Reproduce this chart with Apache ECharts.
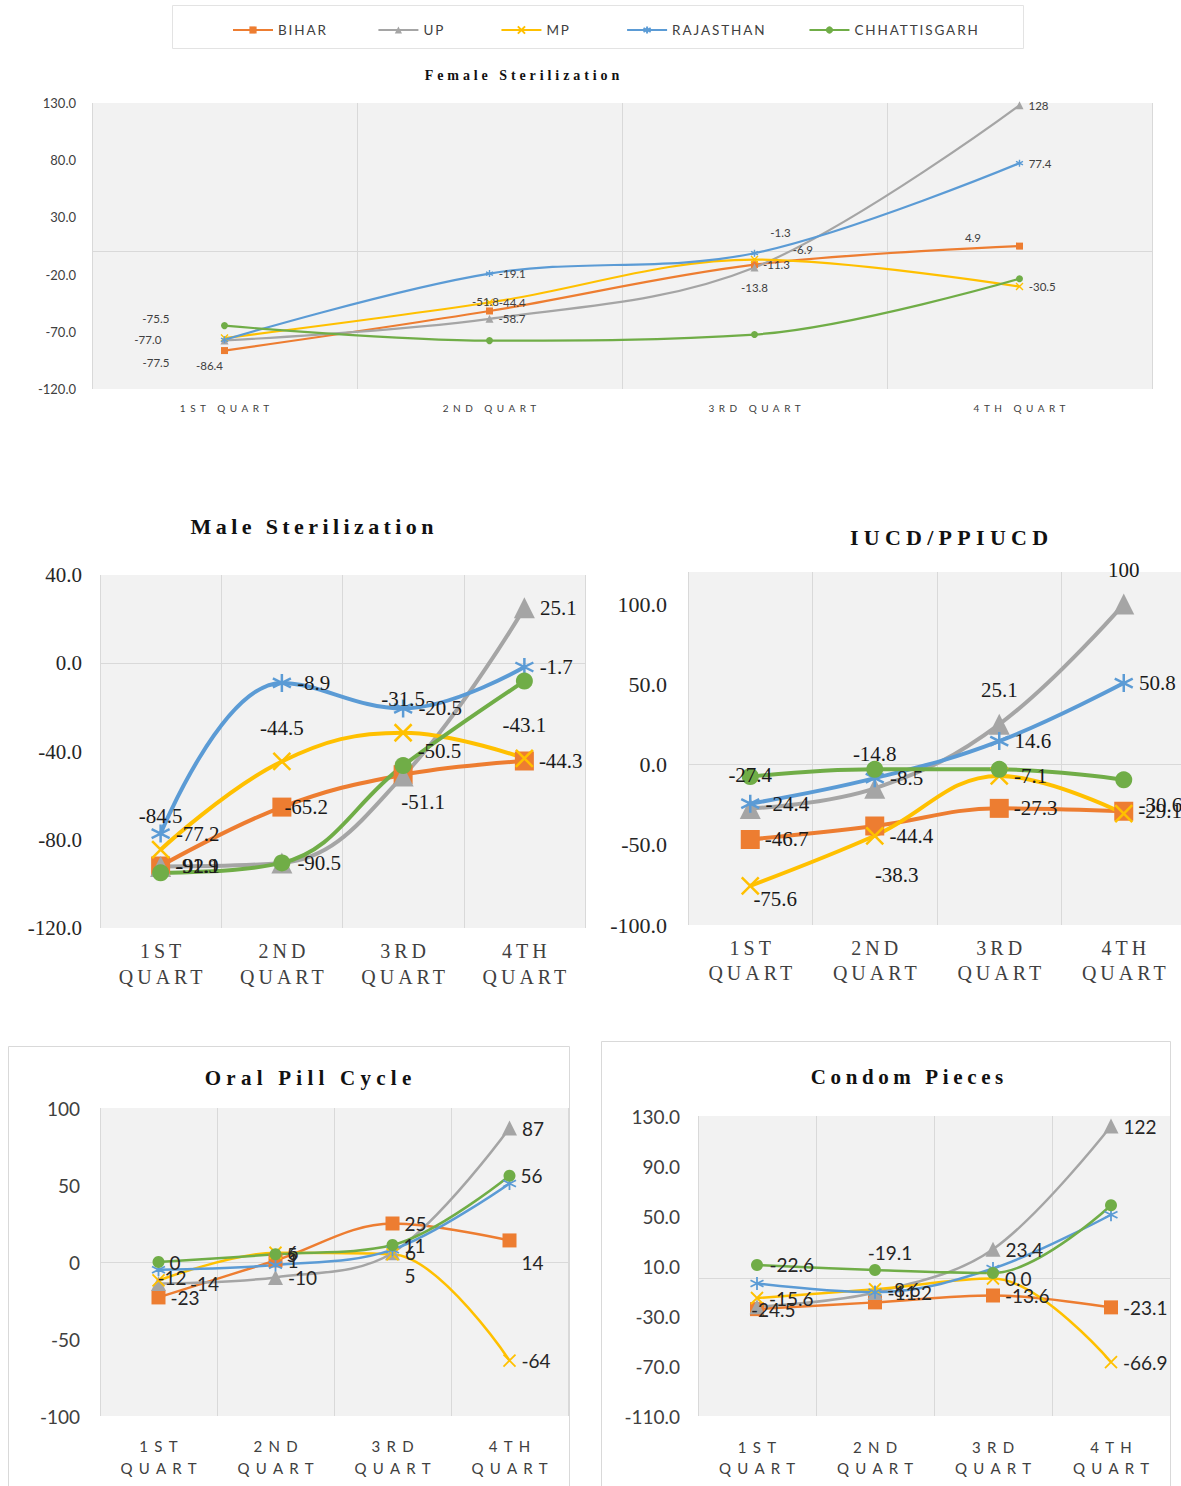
<!DOCTYPE html>
<html>
<head>
<meta charset="utf-8">
<title>Family planning methods by quarter</title>
<script src="https://cdn.jsdelivr.net/npm/echarts@6/dist/echarts.min.js"></script>
<style>
  html, body { margin: 0; padding: 0; background: #fff; }
  #chart { width: 1181px; height: 1486px; }
</style>
</head>
<body>
<div id="chart"></div>
<script>
// ---- categories ----
const QUARTERS = ['1ST QUART', '2ND QUART', '3RD QUART', '4TH QUART'];
const STATES = ['BIHAR', 'UP', 'MP', 'RAJASTHAN', 'CHHATTISGARH'];

// ---- Female Sterilization ----
const femaleBihar = [-86.4, -51.8, -11.3, 4.9];
const femaleUP = [-77.5, -58.7, -13.8, 128];
const femaleMP = [-75.5, -44.4, -6.9, -30.5];
const femaleRajasthan = [-77.0, -19.1, -1.3, 77.4];
const femaleChhattisgarh = [-64.6, -77.7, -72.4, -23.6];
const femaleTicks = [-120, -70, -20, 30, 80, 130];

// ---- Male Sterilization ----
const maleBihar = [-91.9, -65.2, -50.5, -44.3];
const maleUP = [-92.1, -90.5, -51.1, 25.1];
const maleMP = [-84.5, -44.5, -31.5, -43.1];
const maleRajasthan = [-77.2, -8.9, -20.5, -1.7];
const maleChhattisgarh = [-95.0, -90.5, -46.4, -8.1];
const maleTicks = [-120, -80, -40, 0, 40];

// ---- IUCD/PPIUCD ----
const iucdBihar = [-46.7, -38.3, -27.3, -29.1];
const iucdUP = [-27.4, -14.8, 25.1, 100];
const iucdMP = [-75.6, -44.4, -7.1, -30.6];
const iucdRajasthan = [-24.4, -8.5, 14.6, 50.8];
const iucdChhattisgarh = [-7.5, -3.0, -3.0, -9.5];
const iucdTicks = [-100, -50, 0, 50, 100];

// ---- Oral Pill Cycle ----
const pillBihar = [-23, 1, 25, 14];
const pillUP = [-14, -10, 6, 87];
const pillMP = [-12, 6, 5, -64];
const pillRajasthan = [-5, -2, 8, 51];
const pillChhattisgarh = [0, 5, 11, 56];
const pillTicks = [-100, -50, 0, 50, 100];

// ---- Condom Pieces ----
const condomBihar = [-24.5, -19.1, -13.6, -23.1];
const condomUP = [-22.6, -11.2, 23.4, 122];
const condomMP = [-15.6, -8.6, 0.0, -66.9];
const condomRajasthan = [-4.0, -11.0, 8.0, 51.0];
const condomChhattisgarh = [10.8, 6.8, 4.4, 58.6];
const condomTicks = [-110, -70, -30, 10, 50, 90, 130];

// ---- styling ----
const SANS = 'Lato, "Liberation Sans", sans-serif';
const SERIF = '"Liberation Serif", "DejaVu Serif", serif';
const CROSS = 'path://M0,0L10,10M10,0L0,10';
const ASTERISK = 'path://M5,0L5,10M0.7,2.5L9.3,7.5M0.7,7.5L9.3,2.5';

const SERIES_STYLE = [
  { color: '#ED7D31', symbol: 'rect', k: 1.05, stroke: false },
  { color: '#A5A5A5', symbol: 'triangle', k: 1.15, stroke: false },
  { color: '#FFC000', symbol: CROSS, k: 0.95, stroke: true },
  { color: '#5B9BD5', symbol: ASTERISK, k: 1.0, stroke: true },
  { color: '#70AD47', symbol: 'circle', k: 0.95, stroke: false }
];

const fmtOne = v => (Math.abs(v) >= 100 ? String(v) : v.toFixed(1));
const fmtInt = v => String(v);
const tickOne = v => v.toFixed(1);

const R = 'right';

const PANELS = [
  {
    title: 'Female Sterilization', tx: 522, ty: 75, tSize: 14, tTrack: 0.28,
    grid: { left: 92, top: 103, width: 1060, height: 286 },
    ticks: femaleTicks, tickFmt: tickOne, valueFmt: fmtOne,
    series: [femaleBihar, femaleUP, femaleMP, femaleRajasthan, femaleChhattisgarh],
    labelled: [true, true, true, true, false],
    place: [
      [['bottom', -15, 0], ['top', -4, 5], R, ['left', -30, -9]],
      [['left', -46, 22], R, ['bottom', 0, 5], R],
      [['left', -46, -20], R, ['right', 29, -10], R],
      [['left', -54, 0], R, ['top', 26, -6], R],
      null
    ],
    axisFont: SANS, axisSize: 13, axisColor: '#404040', yMargin: 16,
    catFont: SANS, catSize: 10, catMargin: 13, catLine: 12, twoLine: false,
    labelFont: SANS, labelSize: 11.5, labelColor: '#404040',
    lineWidth: 2.2, mark: 7, strokeW: 1.4, smooth: 0.35
  },
  {
    title: 'Male Sterilization', tx: 312, ty: 526, tSize: 22, tTrack: 0.2,
    grid: { left: 100, top: 575, width: 485, height: 353 },
    ticks: maleTicks, tickFmt: tickOne, valueFmt: fmtOne,
    series: [maleBihar, maleUP, maleMP, maleRajasthan, maleChhattisgarh],
    labelled: [true, true, true, true, false],
    place: [
      [R, ['right', -12, 0], ['right', 0, -24], R],
      [R, R, ['bottom', 20, 0], R],
      [['top', 0, -8], ['top', 0, -8], ['top', 0, -8], ['top', 0, -8]],
      [R, R, R, R],
      null
    ],
    axisFont: SERIF, axisSize: 21, axisColor: '#262626', yMargin: 18,
    catFont: SERIF, catSize: 20, catMargin: 10, catLine: 26, twoLine: true,
    labelFont: SERIF, labelSize: 21, labelColor: '#1a1a1a',
    lineWidth: 4, mark: 18, strokeW: 2.5, smooth: 0.4
  },
  {
    title: 'IUCD/PPIUCD', tx: 949, ty: 537, tSize: 22, tTrack: 0.24,
    grid: { left: 688, top: 572, width: 498, height: 353 },
    ticks: iucdTicks, yMax: 120, tickFmt: tickOne, valueFmt: fmtOne,
    series: [iucdBihar, iucdUP, iucdMP, iucdRajasthan, iucdChhattisgarh],
    labelled: [true, true, true, true, false],
    place: [
      [R, ['bottom', 22, 24], R, R],
      [['top', 0, -8], ['top', 0, -8], ['top', 0, -8], ['top', 0, -8]],
      [['bottom', 25, -12], R, R, ['right', 0, -9]],
      [R, R, R, R],
      null
    ],
    axisFont: SERIF, axisSize: 22, axisColor: '#262626', yMargin: 21,
    catFont: SERIF, catSize: 20, catMargin: 10, catLine: 25, twoLine: true,
    labelFont: SERIF, labelSize: 21, labelColor: '#1a1a1a',
    lineWidth: 4, mark: 18, strokeW: 2.5, smooth: 0.4
  },
  {
    title: 'Oral Pill Cycle', tx: 308, ty: 1078, tSize: 21, tTrack: 0.25,
    box: { x: 8, y: 1046, width: 561, height: 460 },
    grid: { left: 100, top: 1108, width: 468, height: 308 },
    ticks: pillTicks, tickFmt: fmtInt, valueFmt: fmtInt,
    series: [pillBihar, pillUP, pillMP, pillRajasthan, pillChhattisgarh],
    labelled: [true, true, true, false, true],
    place: [
      [R, R, R, ['right', 0, 22]],
      [['right', 19, 0], R, R, R],
      [['right', -13, -3], R, ['right', 0, 21], R],
      null,
      [R, R, R, R]
    ],
    axisFont: SANS, axisSize: 19, axisColor: '#404040', yMargin: 20,
    catFont: SANS, catSize: 15, catMargin: 19, catLine: 22, twoLine: true,
    labelFont: SANS, labelSize: 19, labelColor: '#262626',
    lineWidth: 2.5, mark: 13, strokeW: 1.8, smooth: 0.35
  },
  {
    title: 'Condom Pieces', tx: 907, ty: 1077, tSize: 21, tTrack: 0.22,
    box: { x: 601, y: 1041, width: 569, height: 465 },
    grid: { left: 698, top: 1116, width: 472, height: 300 },
    ticks: condomTicks, tickFmt: tickOne, valueFmt: fmtOne,
    series: [condomBihar, condomUP, condomMP, condomRajasthan, condomChhattisgarh],
    labelled: [true, true, true, false, false],
    place: [
      [['right', -18, 0], ['top', 15, -28], R, R],
      [['right', 0, -42], R, R, R],
      [R, R, R, R],
      null,
      null
    ],
    axisFont: SANS, axisSize: 19, axisColor: '#404040', yMargin: 18,
    catFont: SANS, catSize: 15, catMargin: 20, catLine: 21, twoLine: true,
    labelFont: SANS, labelSize: 19, labelColor: '#262626',
    lineWidth: 2.5, mark: 13, strokeW: 1.8, smooth: 0.35
  }
];

// ---- build option ----
const grids = [], xAxes = [], yAxes = [], series = [], graphics = [];

// legend frame
graphics.push({
  type: 'rect', shape: { x: 172.5, y: 5.5, width: 851, height: 43 },
  style: { fill: 'none', stroke: '#e3e3e3', lineWidth: 1 }, silent: true
});

PANELS.forEach((p, gi) => {
  if (p.box) {
    graphics.push({
      type: 'rect', shape: { x: p.box.x + 0.5, y: p.box.y + 0.5, width: p.box.width, height: p.box.height },
      style: { fill: 'none', stroke: '#d9d9d9', lineWidth: 1 }, silent: true
    });
  }
  graphics.push({
    type: 'text', x: p.tx, y: p.ty, silent: true,
    style: {
      text: p.title, fontFamily: SERIF, fontWeight: 'bold', fontSize: p.tSize, fill: '#111',
      align: 'center', verticalAlign: 'middle', textAlign: 'center', textVerticalAlign: 'middle'
    }
  });

  grids.push(Object.assign({
    show: true, backgroundColor: '#f2f2f2', borderWidth: 0, borderColor: 'transparent',
    containLabel: false, outerBoundsMode: 'none'
  }, p.grid));

  xAxes.push({
    gridIndex: gi, type: 'category', data: QUARTERS, boundaryGap: true,
    axisLine: { show: false }, axisTick: { show: false },
    splitLine: { show: true, lineStyle: { color: '#d9d9d9', width: 1 } },
    axisLabel: {
      interval: 0, margin: p.catMargin, fontFamily: p.catFont, fontSize: p.catSize,
      lineHeight: p.catLine, color: '#404040',
      formatter: p.twoLine ? (v => v.replace(' ', '\n')) : (v => v)
    }
  });

  const t = p.ticks;
  const yAxis = {
    gridIndex: gi, type: 'value', min: t[0], max: p.yMax != null ? p.yMax : t[t.length - 1],
    interval: t[1] - t[0],
    splitLine: { show: false }, axisLine: { show: false }, axisTick: { show: false },
    axisLabel: {
      margin: p.yMargin, fontFamily: p.axisFont, fontSize: p.axisSize, color: p.axisColor,
      formatter: p.tickFmt
    }
  };
  if (p.yMax != null) yAxis.axisLabel.showMaxLabel = false;
  yAxes.push(yAxis);

  p.series.forEach((vals, si) => {
    const st = SERIES_STYLE[si];
    const show = p.labelled[si];
    const place = p.place[si];
    const data = vals.map((v, i) => {
      if (!show) return v;
      const pl = place ? place[i] : R;
      const [pos, dx, dy] = Array.isArray(pl) ? pl : [pl, 0, 0];
      return { value: v, label: { position: pos, offset: [dx, dy] } };
    });
    const s = {
      type: 'line', name: STATES[si], xAxisIndex: gi, yAxisIndex: gi, data,
      smooth: p.smooth, symbol: st.symbol, symbolSize: Math.round(p.mark * st.k),
      showAllSymbol: true,
      lineStyle: { color: st.color, width: p.lineWidth },
      itemStyle: { color: st.color, borderColor: st.color, borderWidth: st.stroke ? p.strokeW : 0 },
      label: {
        show, distance: 5, fontFamily: p.labelFont, fontSize: p.labelSize, color: p.labelColor,
        formatter: prm => p.valueFmt(prm.value)
      },
      emphasis: { disabled: true },
      animation: false
    };
    if (si === 0) {
      s.markLine = {
        silent: true, symbol: ['none', 'none'], z: 1, animation: false,
        label: { show: false },
        lineStyle: { color: '#d9d9d9', width: 1, type: 'solid' },
        emphasis: { disabled: true },
        data: [{ yAxis: 0 }]
      };
    }
    series.push(s);
  });
});

const option = {
  backgroundColor: '#ffffff',
  animation: false,
  legend: {
    data: STATES, left: 227, top: 18, orient: 'horizontal',
    itemWidth: 40, itemHeight: 9, itemGap: 59, selectedMode: false,
    textStyle: { fontFamily: SANS, fontSize: 13.5, color: '#404040' }
  },
  graphic: { elements: graphics },
  grid: grids,
  xAxis: xAxes,
  yAxis: yAxes,
  series
};

const dom = document.getElementById('chart');
const chart = echarts.init(dom, null, { renderer: 'svg', width: 1181, height: 1486 });
chart.setOption(option);

// letter tracking for titles, legend and quarter labels (SVG text keeps the exact strings)
const TRACK = {};
PANELS.forEach(p => { TRACK[p.title] = p.tTrack; });
STATES.forEach(s => { TRACK[s] = 0.14; });
function applyTracking() {
  dom.querySelectorAll('text').forEach(el => {
    const s = (el.textContent || '').trim();
    let em = null;
    if (Object.prototype.hasOwnProperty.call(TRACK, s)) em = TRACK[s];
    else if (QUARTERS.includes(s)) em = 0.45;
    else if (/^(1ST|2ND|3RD|4TH|QUART)$/.test(s)) {
      const fam = (el.getAttribute('style') || '') + ' ' + getComputedStyle(el).fontFamily;
      em = fam.includes('Liberation Serif') ? 0.2 : 0.42;
    }
    if (em == null) return;
    el.style.letterSpacing = em + 'em';
    // the tracking adds space after the last glyph too; re-centre middle-anchored text
    if (el.getAttribute('text-anchor') === 'middle') {
      const fs = parseFloat(getComputedStyle(el).fontSize) || 12;
      el.setAttribute('dx', String((em * fs) / 2));
    }
  });
}
applyTracking();
chart.on('finished', applyTracking);
</script>
</body>
</html>
